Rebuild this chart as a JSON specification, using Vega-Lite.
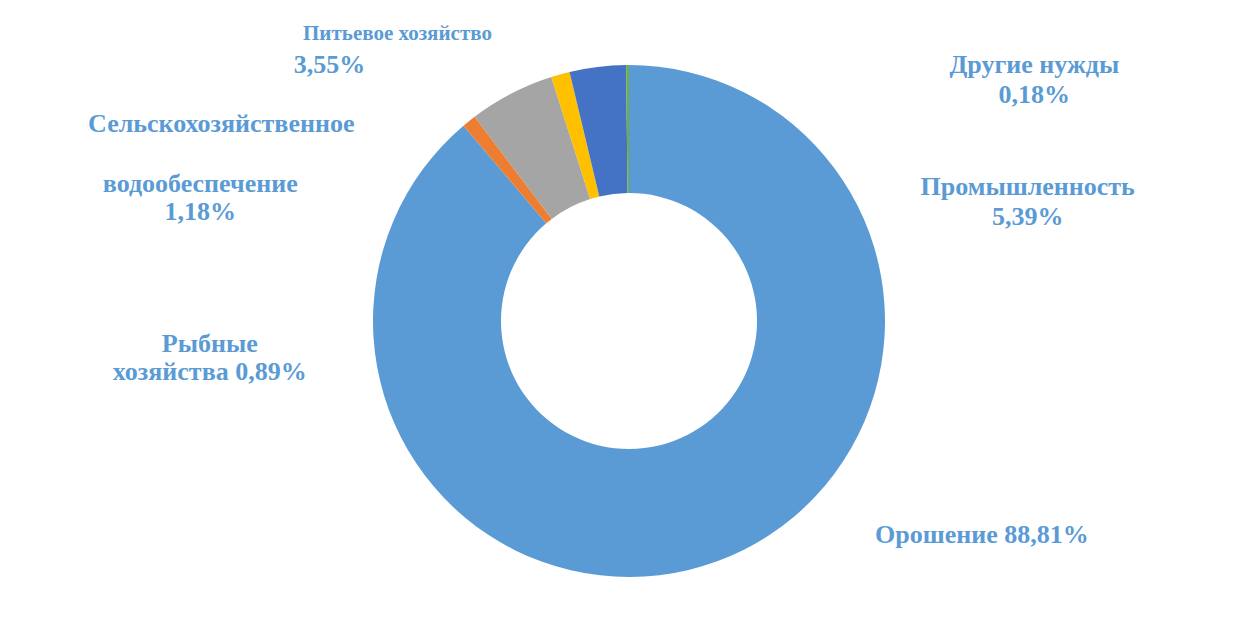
{
  "$schema": "https://vega.github.io/schema/vega-lite/v6.json",
  "width": 1218,
  "height": 608,
  "autosize": "none",
  "padding": {"left": 20, "top": 17, "right": 0, "bottom": 0},
  "background": "white",
  "config": {"view": {"stroke": null}},
  "data": {"values": [
    {"n": 1, "cat": "Орошение", "value": 88.81, "label": "Орошение 88,81%", "label2": ""},
    {"n": 2, "cat": "Рыбные хозяйства", "value": 0.89, "label": "Рыбные\nхозяйства 0,89%", "label2": ""},
    {"n": 3, "cat": "Промышленность", "value": 5.39, "label": "Промышленность\n5,39%", "label2": ""},
    {"n": 4, "cat": "Сельскохозяйственное водообеспечение", "value": 1.18, "label": "водообеспечение\n1,18%", "label2": "Сельскохозяйственное"},
    {"n": 5, "cat": "Питьевое хозяйство", "value": 3.55, "label": "3,55%", "label2": "Питьевое хозяйство"},
    {"n": 6, "cat": "Другие нужды", "value": 0.18, "label": "Другие нужды\n0,18%", "label2": ""}
  ]},
  "encoding": {
    "theta": {"field": "value", "type": "quantitative", "stack": true},
    "order": {"field": "n", "type": "quantitative"}
  },
  "layer": [
    {
      "mark": {"type": "arc", "innerRadius": 128, "outerRadius": 256},
      "encoding": {
        "color": {
          "field": "cat", "type": "nominal", "legend": null,
          "scale": {
            "domain": ["Орошение", "Рыбные хозяйства", "Промышленность", "Сельскохозяйственное водообеспечение", "Питьевое хозяйство", "Другие нужды"],
            "range": ["#5B9BD5", "#ED7D31", "#A5A5A5", "#FFC000", "#4472C4", "#70AD47"]
          }
        }
      }
    },
    {
      "mark": {"type": "text", "radius": 290, "dx": 253, "dy": -50, "align": "center", "baseline": "alphabetic", "font": "Liberation Serif", "fontWeight": "bold", "fontSize": 26, "color": "#5B9BD5", "lineBreak": "\n", "lineHeight": 30},
      "encoding": {"text": {"condition": {"test": "datum.cat === 'Орошение'", "field": "label"}, "value": ""}}
    },
    {
      "mark": {"type": "text", "radius": 290, "dx": -238, "dy": 257, "align": "center", "baseline": "alphabetic", "font": "Liberation Serif", "fontWeight": "bold", "fontSize": 26, "color": "#5B9BD5", "lineBreak": "\n", "lineHeight": 28.5},
      "encoding": {"text": {"condition": {"test": "datum.cat === 'Рыбные хозяйства'", "field": "label"}, "value": ""}}
    },
    {
      "mark": {"type": "text", "radius": 290, "dx": 532, "dy": 132, "align": "center", "baseline": "alphabetic", "font": "Liberation Serif", "fontWeight": "bold", "fontSize": 26, "color": "#5B9BD5", "lineBreak": "\n", "lineHeight": 30},
      "encoding": {"text": {"condition": {"test": "datum.cat === 'Промышленность'", "field": "label"}, "value": ""}}
    },
    {
      "mark": {"type": "text", "radius": 290, "dx": -330, "dy": 90, "align": "center", "baseline": "alphabetic", "font": "Liberation Serif", "fontWeight": "bold", "fontSize": 26, "color": "#5B9BD5"},
      "encoding": {"text": {"condition": {"test": "datum.cat === 'Сельскохозяйственное водообеспечение'", "field": "label2"}, "value": ""}}
    },
    {
      "mark": {"type": "text", "radius": 290, "dx": -351, "dy": 150, "align": "center", "baseline": "alphabetic", "font": "Liberation Serif", "fontWeight": "bold", "fontSize": 26, "color": "#5B9BD5", "lineBreak": "\n", "lineHeight": 28.5},
      "encoding": {"text": {"condition": {"test": "datum.cat === 'Сельскохозяйственное водообеспечение'", "field": "label"}, "value": ""}}
    },
    {
      "mark": {"type": "text", "radius": 290, "dx": -196, "dy": 7, "align": "center", "baseline": "alphabetic", "font": "Liberation Serif", "fontWeight": "bold", "fontSize": 21, "color": "#5B9BD5"},
      "encoding": {"text": {"condition": {"test": "datum.cat === 'Питьевое хозяйство'", "field": "label2"}, "value": ""}}
    },
    {
      "mark": {"type": "text", "radius": 290, "dx": -264, "dy": 40, "align": "center", "baseline": "alphabetic", "font": "Liberation Serif", "fontWeight": "bold", "fontSize": 26, "color": "#5B9BD5"},
      "encoding": {"text": {"condition": {"test": "datum.cat === 'Питьевое хозяйство'", "field": "label"}, "value": ""}}
    },
    {
      "mark": {"type": "text", "radius": 290, "dx": 407, "dy": 42, "align": "center", "baseline": "alphabetic", "font": "Liberation Serif", "fontWeight": "bold", "fontSize": 26, "color": "#5B9BD5", "lineBreak": "\n", "lineHeight": 30},
      "encoding": {"text": {"condition": {"test": "datum.cat === 'Другие нужды'", "field": "label"}, "value": ""}}
    }
  ]
}
